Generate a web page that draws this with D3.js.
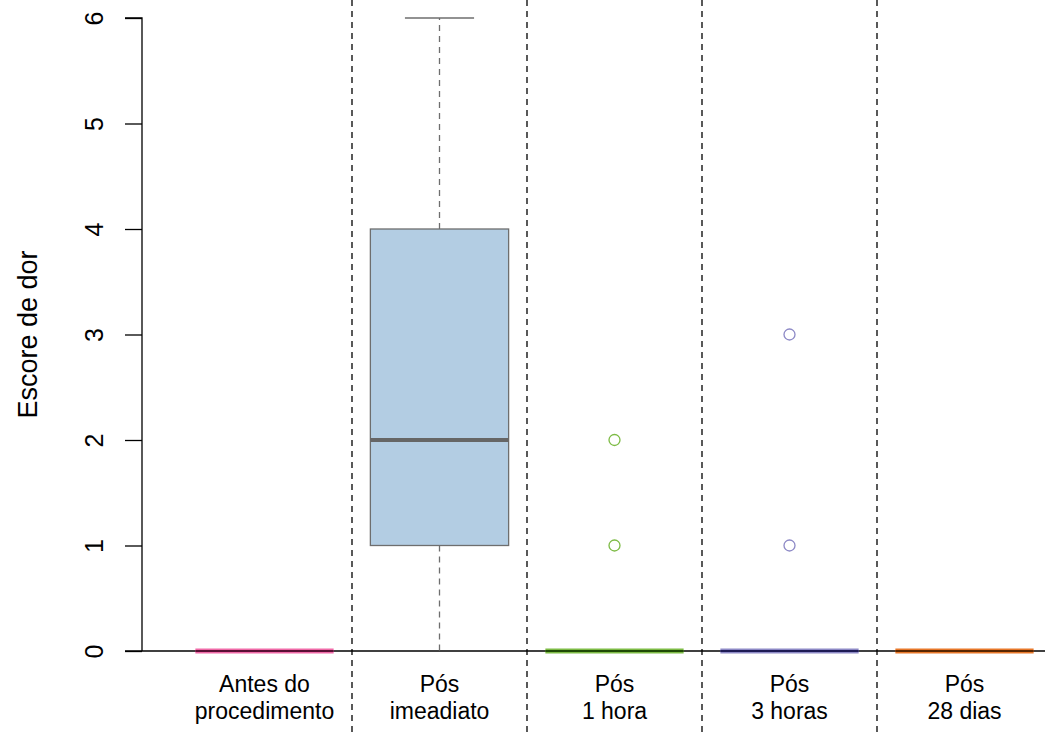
<!DOCTYPE html>
<html>
<head>
<meta charset="utf-8">
<script src="https://cdn.jsdelivr.net/npm/d3@7"></script>
<style>
  html, body { margin: 0; padding: 0; background: #fff; }
  text { font-family: "Liberation Sans", Arial, sans-serif; }
</style>
</head>
<body>
<svg id="chart" width="1045" height="735"></svg>
<script>
// Pain score per time point: five-number summaries and outliers
const groups = ["Antes do\nprocedimento", "Pós\nimeadiato", "Pós\n1 hora", "Pós\n3 horas", "Pós\n28 dias"];
const lowerWhisker = [0, 0, 0, 0, 0];
const q1 = [0, 1, 0, 0, 0];
const medians = [0, 2, 0, 0, 0];
const q3 = [0, 4, 0, 0, 0];
const upperWhisker = [0, 6, 0, 0, 0];
const outliers = [[], [], [1, 2], [1, 3], []];
const yTicks = [0, 1, 2, 3, 4, 5, 6];

const fills = ["#f06aa8", "#b3cde3", "#7dbb45", "#8d89c6", "#e8782a"];
const borders = ["#e7298a", "#6e6e6e", "#66a61e", "#7570b3", "#d95f02"];
const medianColors = ["#5a0f35", "#666666", "#1f4a05", "#1e1b55", "#5a2600"];
const pointColors = ["#e7298a", "#555555", "#7dbb45", "#8d89c6", "#d95f02"];

const svg = d3.select("#chart");
const W = 1045, H = 735;

const x = d3.scaleBand()
  .domain(d3.range(groups.length))
  .range([177, 1052])
  .paddingInner(0)
  .paddingOuter(0);
const y = d3.scaleLinear().domain([0, 6]).range([651, 18]);

const boxW = x.bandwidth() * 0.79;
const capW = boxW / 2;
const cx = i => x(i) + x.bandwidth() / 2;

// Separators between time points
const seps = d3.range(1, groups.length).map(i => x(i));
svg.selectAll("line.sep").data(seps).join("line")
  .attr("class", "sep")
  .attr("x1", d => d).attr("x2", d => d)
  .attr("y1", 0).attr("y2", H)
  .attr("stroke", "#000").attr("stroke-width", 1.3)
  .attr("stroke-dasharray", "6,5");

// Y axis
const axisX = 142;
const yAxis = d3.axisLeft(y).tickValues(yTicks).tickSize(17).tickFormat(d3.format("d"));
const gy = svg.append("g").attr("transform", `translate(${axisX},0)`).call(yAxis);
gy.select(".domain").attr("d", `M-17,${y(6)}H0V${y(0)}`).attr("stroke", "#000").attr("stroke-width", 1.3);
gy.selectAll(".tick line").attr("stroke", "#000").attr("stroke-width", 1.3);
gy.selectAll(".tick text")
  .attr("x", null)
  .attr("dy", null)
  .attr("y", 0)
  .attr("text-anchor", "middle")
  .attr("fill", "#000")
  .attr("transform", `translate(${103 - axisX},0) rotate(-90)`)
  .style("font-size", "25px")
  .style("font-family", "'Liberation Sans', Arial, sans-serif");

// Baseline at zero
svg.append("line")
  .attr("x1", 125).attr("x2", W)
  .attr("y1", y(0)).attr("y2", y(0))
  .attr("stroke", "#000").attr("stroke-width", 1.3);

svg.append("text")
  .attr("transform", `translate(37,${(y(0) + y(6)) / 2}) rotate(-90)`)
  .attr("text-anchor", "middle")
  .style("font-size", "27px")
  .attr("fill", "#000")
  .text("Escore de dor");

// Boxes
groups.forEach((g, i) => {
  const c = cx(i);
  const gg = svg.append("g");
  // whiskers
  if (upperWhisker[i] > q3[i]) {
    gg.append("line").attr("x1", c).attr("x2", c)
      .attr("y1", y(q3[i])).attr("y2", y(upperWhisker[i]))
      .attr("stroke", borders[i]).attr("stroke-width", 1.3).attr("stroke-dasharray", "6,5");
    gg.append("line").attr("x1", c - capW / 2).attr("x2", c + capW / 2)
      .attr("y1", y(upperWhisker[i])).attr("y2", y(upperWhisker[i]))
      .attr("stroke", borders[i]).attr("stroke-width", 1.5);
  }
  if (lowerWhisker[i] < q1[i]) {
    gg.append("line").attr("x1", c).attr("x2", c)
      .attr("y1", y(q1[i])).attr("y2", y(lowerWhisker[i]))
      .attr("stroke", borders[i]).attr("stroke-width", 1.3).attr("stroke-dasharray", "6,5");
  }
  const h = y(q1[i]) - y(q3[i]);
  if (h > 0) {
    gg.append("rect")
      .attr("x", c - boxW / 2).attr("width", boxW)
      .attr("y", y(q3[i])).attr("height", h)
      .attr("fill", fills[i]).attr("stroke", borders[i]).attr("stroke-width", 1.3);
    gg.append("line").attr("x1", c - boxW / 2).attr("x2", c + boxW / 2)
      .attr("y1", y(medians[i])).attr("y2", y(medians[i]))
      .attr("stroke", medianColors[i]).attr("stroke-width", 4);
  } else {
    gg.append("line").attr("x1", c - boxW / 2).attr("x2", c + boxW / 2)
      .attr("y1", y(medians[i])).attr("y2", y(medians[i]))
      .attr("stroke", fills[i]).attr("stroke-width", 5);
    gg.append("line").attr("x1", c - boxW / 2).attr("x2", c + boxW / 2)
      .attr("y1", y(medians[i])).attr("y2", y(medians[i]))
      .attr("stroke", medianColors[i]).attr("stroke-width", 2);
  }
  gg.selectAll("circle").data(outliers[i]).join("circle")
    .attr("cx", c).attr("cy", d => y(d)).attr("r", 5.5)
    .attr("fill", "none").attr("stroke", pointColors[i]).attr("stroke-width", 1.3);

  // category label
  const lines = g.split("\n");
  const t = svg.append("text").attr("text-anchor", "middle").style("font-size", "23px").attr("fill", "#000");
  lines.forEach((ln, k) => {
    t.append("tspan").attr("x", c).attr("y", 692 + k * 27).text(ln);
  });
});
</script>
</body>
</html>
